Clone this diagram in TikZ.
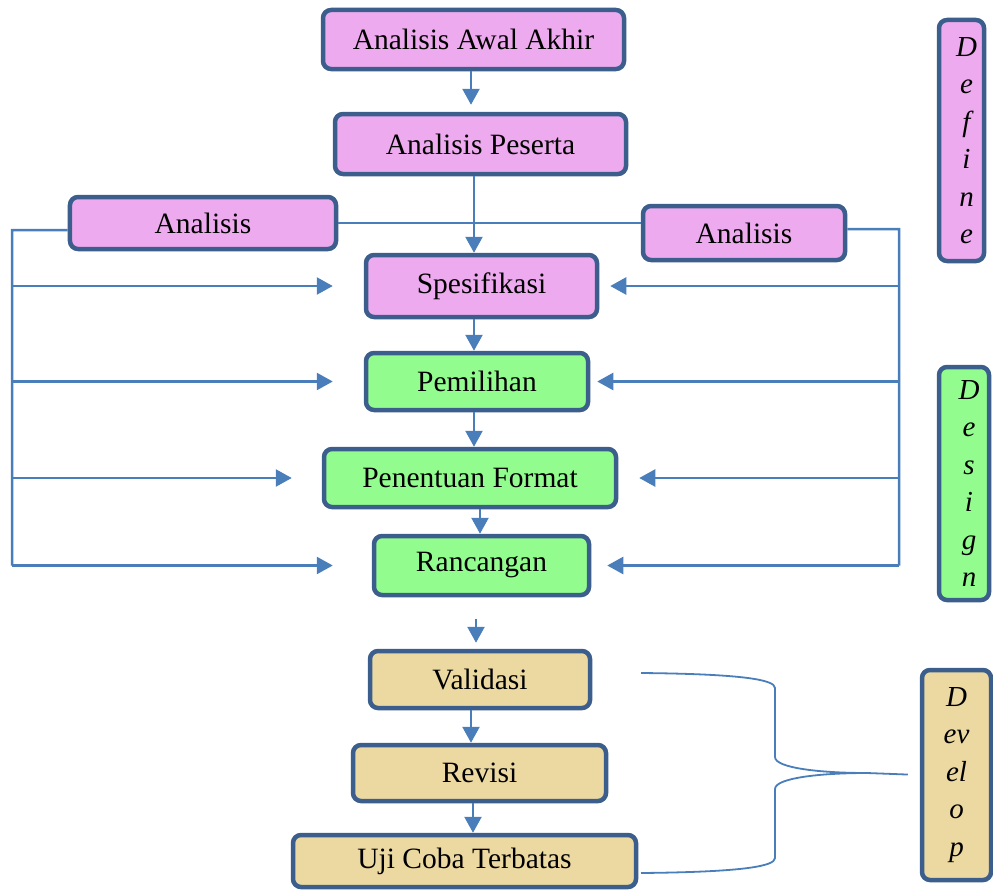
\documentclass[tikz,border=0pt]{standalone}
\usepackage{fontspec}
\setmainfont{Liberation Serif}
\usetikzlibrary{arrows.meta}

\definecolor{bingkai}{HTML}{3B5E8C}
\definecolor{panah}{HTML}{4A7EBB}
\definecolor{merah}{HTML}{EEAAEE}
\definecolor{hijau}{HTML}{92FD8E}
\definecolor{krem}{HTML}{EBD9A1}

\tikzset{
	tahap/.style={draw=bingkai, line width=4.5bp, rounded corners=8bp, inner sep=0pt,
		font=\fontsize{29.5bp}{37bp}\selectfont, text=black},
	define/.style={tahap, fill=merah},
	design/.style={tahap, fill=hijau},
	develop/.style={tahap, fill=krem},
	fase/.style={align=center, font=\fontsize{29bp}{37.5bp}\selectfont\itshape},
	link/.style={draw=panah, line width=2.5bp},
	arr/.style={link, -{Triangle[length=16bp,width=17bp]}},
}

\begin{document}
\begin{tikzpicture}[x=1bp, y=-1bp]
	\useasboundingbox (0,0) rectangle (993,892);
	
	%define
	\node (awal) at (473.5, 39.5) [define, minimum width=301bp, minimum height=59bp]{Analisis Awal Akhir};
	\node (peserta) at (480.5, 144) [define, minimum width=291bp, minimum height=60bp]{Analisis Peserta};
	\node (anlkiri) at (203, 223) [define, minimum width=266bp, minimum height=52bp]{Analisis};
	\node (anlkanan) at (744, 233) [define, minimum width=202bp, minimum height=54bp]{Analisis};
	\node (spesifikasi) at (481.5, 286) [define, minimum width=231bp, minimum height=62bp]{Spesifikasi};
	
	%design
	\node (pemilihan) at (477, 381.5) [design, minimum width=222bp, minimum height=57bp]{Pemilihan};
	\node (format) at (470, 478) [design, minimum width=292bp, minimum height=58bp]{Penentuan Format};
	\node (rancangan) at (481.5, 565.5) [design, minimum width=215bp, minimum height=59bp]{Rancangan};
	
	%develop
	\node (validasi) at (480, 679.5) [develop, minimum width=220bp, minimum height=57bp]{Validasi};
	\node (revisi) at (479.5, 773) [develop, minimum width=253bp, minimum height=56bp]{Revisi};
	\node (uji) at (464.5, 861) [develop, minimum width=343bp, minimum height=52bp]{Uji Coba Terbatas};
	
	%phase labels
	\node (fdefine) at (961.5, 140.5) [define, minimum width=45bp, minimum height=241bp]{};
	\node at (fdefine) [fase, xshift=5bp]{D\\e\\f\\i\\n\\e};
	\node (fdesign) at (964, 483.5) [design, minimum width=50bp, minimum height=233bp]{};
	\node at (fdesign) [fase, xshift=5bp]{D\\e\\s\\i\\g\\n};
	\node (fdevelop) at (956.5, 775) [develop, minimum width=69bp, minimum height=210bp]{};
	\node at (fdevelop) [fase]{D\\ev\\el\\o\\p};
	
	%main flow
	\foreach \a/\b/\dx in {peserta/spesifikasi/-6.5bp, spesifikasi/pemilihan/-7.5bp,
		pemilihan/format/-3bp, format/rancangan/10bp, validasi/revisi/-9bp, revisi/uji/-6.5bp}{
		\draw[arr] ([xshift=\dx]\a.south) -- ([xshift=\dx]\a.south |- \b.north);
	}
	\draw[arr, shorten >=7bp] ([xshift=-2.5bp]awal.south) -- ([xshift=-2.5bp]awal.south |- peserta.north);
	\draw[arr, shorten <=22bp, shorten >=6bp] ([xshift=-5.5bp]rancangan.south) -- ([xshift=-5.5bp]rancangan.south |- validasi.north);
	
	%analysis buses
	\coordinate (lbus) at (12, 230);
	\coordinate (rbus) at (899, 229);
	\draw[link] (anlkiri.east) -- (anlkiri.east -| anlkanan.west);
	\draw[link] ([yshift=-7bp]anlkiri.west) -- (lbus) -- (lbus |- rancangan);
	\draw[link] ([yshift=4bp]anlkanan.east) -- (rbus) -- (rbus |- rancangan);
	\foreach \n/\s in {spesifikasi/31bp, pemilihan/31bp, format/30bp, rancangan/39bp}{
		\draw[arr, shorten >=\s] (lbus |- \n) -- (\n.west);
	}
	\foreach \n/\s in {spesifikasi/11bp, pemilihan/7bp, format/21bp, rancangan/16bp}{
		\draw[arr, shorten >=\s] (rbus |- \n) -- (\n.east);
	}
	
	%brace
	\coordinate (btop) at (641, 673);
	\coordinate (bbot) at (641, 873);
	\coordinate (btip) at (867, 773);
	\draw[link, line width=1.8bp] (btop) .. controls (745, 674) and (775, 680) .. (775, 688) -- (775, 757)
		.. controls (775, 768) and (820, 773) .. (btip)
		.. controls (820, 773) and (775, 778) .. (775, 789) -- (775, 858)
		.. controls (775, 866) and (745, 872) .. (bbot);
	\draw[link, line width=1.8bp, shorten >=12bp] (btip) -- (fdevelop.west);
\end{tikzpicture}
\end{document}
